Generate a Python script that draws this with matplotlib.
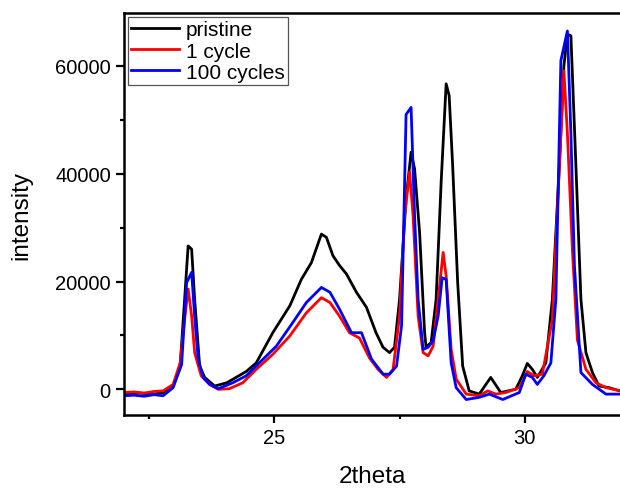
import matplotlib
matplotlib.use('Agg')
from matplotlib import pyplot as plt
from matplotlib.ticker import MultipleLocator

plt.rcParams['font.family'] = ['Liberation Sans', 'DejaVu Sans']

pristine_x = [22.0, 22.3, 22.6, 22.78, 22.98, 23.12, 23.21, 23.28, 23.35, 23.41, 23.51, 23.61,
              23.81, 24.05, 24.44, 24.64, 24.97, 25.31, 25.54, 25.74, 25.94, 26.04, 26.17,
              26.3, 26.44, 26.64, 26.84, 27.03, 27.17, 27.3, 27.4, 27.5, 27.63, 27.73, 27.8,
              27.9, 28.0, 28.03, 28.13, 28.23, 28.33, 28.43, 28.49, 28.56, 28.66, 28.76,
              28.89, 29.09, 29.32, 29.52, 29.82, 29.95, 30.05, 30.15, 30.25, 30.42, 30.55,
              30.69, 30.78, 30.85, 30.92, 31.02, 31.12, 31.22, 31.35, 31.48, 31.68, 31.9]
pristine_y = [-900, -700, -900, -600, 600, 4300, 16700, 26600, 26000, 16700, 4300, 2200,
              600, 1200, 3300, 4900, 10500, 15500, 20400, 23500, 28800, 28200, 24800,
              23000, 21400, 18000, 15200, 10500, 7800, 6800, 7800, 16700, 35300, 44000, 40900,
              29100, 10500, 7800, 8700, 16700, 38400, 56700, 54500, 41500, 19800, 4300,
              -300, -900, 2200, -600, 0, 2500, 4800, 3700, 2200, 4900, 16700,
              41500, 60000, 65900, 65600, 41500, 16700, 6800, 3100, 600, 300, -300]

cycle1_x = [22.0, 22.2, 22.4, 22.6, 22.78, 22.98, 23.12, 23.21, 23.28, 23.35, 23.41, 23.54,
            23.71, 23.88, 24.1, 24.37, 24.64, 24.97, 25.31, 25.64, 25.94, 26.11, 26.3,
            26.5, 26.7, 26.9, 27.07, 27.24, 27.37, 27.5, 27.6, 27.7, 27.77, 27.87, 27.97,
            28.07, 28.17, 28.27, 28.37, 28.43, 28.53, 28.63, 28.83, 29.09, 29.26, 29.42,
            29.62, 29.89, 30.05, 30.18, 30.35, 30.55, 30.69, 30.78, 30.85, 30.95, 31.05,
            31.22, 31.42, 31.62, 31.9]
cycle1_y = [-600, -500, -700, -400, -300, 900, 4900, 13000, 18600, 13600, 6800, 2500,
            900, 0, 100, 1200, 3700, 6500, 9900, 14200, 17000, 16100, 13600,
            10500, 9500, 5800, 3700, 2200, 3700, 13600, 32200, 40300, 32200, 13600, 6800,
            6200, 8000, 16700, 25400, 21000, 7400, 1900, -900, -1200, -300, -900,
            -600, 300, 3300, 2500, 2800, 13000, 41500, 59100, 47500, 25800, 9100,
            3700, 1200, 300, -300]

cycle100_x = [22.0, 22.2, 22.4, 22.6, 22.78, 22.98, 23.15, 23.25, 23.35, 23.41, 23.48, 23.58,
              23.71, 23.88, 24.17, 24.44, 24.7, 25.04, 25.37, 25.64, 25.94, 26.11, 26.3,
              26.54, 26.74, 26.94, 27.17, 27.3, 27.44, 27.54, 27.63, 27.73, 27.8, 27.87,
              27.97, 28.07, 28.17, 28.27, 28.35, 28.43, 28.53, 28.63, 28.83, 29.09, 29.29,
              29.56, 29.89, 30.02, 30.15, 30.25, 30.38, 30.52, 30.62, 30.72, 30.85, 30.92,
              30.99, 31.12, 31.35, 31.62, 31.9]
cycle100_y = [-1200, -1100, -1300, -1000, -1200, 300, 4600, 19800, 21700, 13600, 5600, 2200,
              900, 100, 1200, 2500, 4900, 8000, 12400, 16100, 18900, 18000, 14900,
              10500, 10500, 5600, 2800, 2800, 4300, 11800, 51000, 52300, 32200, 16700,
              7400, 7800, 9000, 13600, 20700, 20400, 4900, 300, -1900, -1500, -900,
              -1900, -600, 2800, 2200, 900, 2500, 4900, 16700, 61000, 66500, 47500,
              23000, 3100, 900, -900, -900]

fig = plt.figure(figsize=(6.2, 4.89), dpi=100)
ax = fig.add_axes([0.2, 0.149, 0.8, 0.822])

ax.plot(pristine_x, pristine_y, color='black', lw=2.0, label='pristine')
ax.plot(cycle1_x, cycle1_y, color='#ff0000', lw=2.0, label='1 cycle')
ax.plot(cycle100_x, cycle100_y, color='#0000ff', lw=2.0, label='100 cycles')

ax.set_xlim(22.0, 31.9)
ax.set_ylim(-4800, 69800)
ax.xaxis.set_major_locator(MultipleLocator(5))
ax.xaxis.set_minor_locator(MultipleLocator(2.5))
ax.yaxis.set_major_locator(MultipleLocator(20000))
ax.yaxis.set_minor_locator(MultipleLocator(10000))
ax.tick_params(which='major', direction='out', length=5.5, width=1.6, labelsize=14.5, pad=4)
ax.tick_params(which='minor', direction='out', length=3, width=1.6)
for s in ['left', 'bottom', 'top']:
    ax.spines[s].set_linewidth(1.8)
ax.spines['right'].set_visible(False)

ax.set_xlabel('2theta', fontsize=17.5, labelpad=12.5)
ax.set_ylabel('intensity', fontsize=17.5, labelpad=16)

leg = ax.legend(loc='upper left', fontsize=15, fancybox=False, framealpha=1,
                edgecolor='#555555', handlelength=2.3, handletextpad=0.33,
                labelspacing=0.1, borderaxespad=0.2, borderpad=0.15)
leg.get_frame().set_linewidth(0.9)

fig.savefig('out.png', dpi=100)
